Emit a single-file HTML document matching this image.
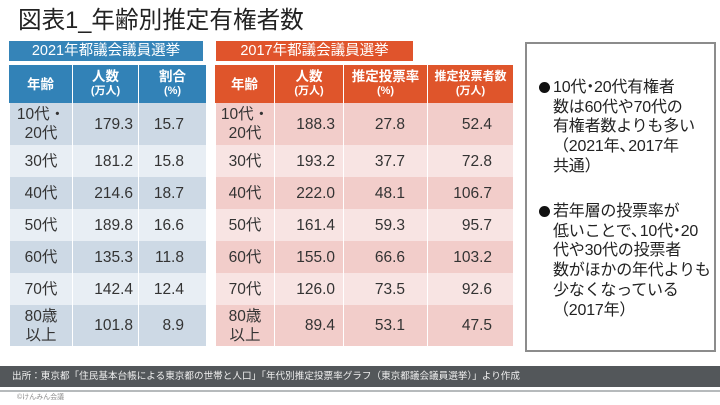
<!DOCTYPE html>
<html><head><meta charset="utf-8">
<style>
*{margin:0;padding:0;box-sizing:border-box}
html,body{width:720px;height:405px;background:#fff;overflow:hidden}
body{position:relative;font-family:"Liberation Sans","Noto Sans CJK JP",sans-serif;color:#333}
.abs{position:absolute}
.title{left:18px;top:8px;font-size:23.6px;line-height:26px;color:#222;white-space:nowrap}
.banner{height:20px;top:41px;color:#fff;font-size:14.5px;line-height:20px;text-align:center;white-space:nowrap}
.tbl{position:absolute;top:65px;display:grid;grid-template-rows:38px 42px 32px 32px 32px 32px 32px 41px}
.c{display:flex;align-items:center;font-size:15.5px;color:#333;white-space:nowrap;line-height:19px}
.c+.c{border-left:1px solid #fff}
.h{color:#fff;font-weight:bold;justify-content:center;flex-direction:column;text-align:center;font-size:13.5px;line-height:15px}
.h small{font-size:11px;display:block;margin-top:0px}
.l{justify-content:center;text-align:center}
.r{justify-content:flex-end}
.box{left:525px;top:42px;width:191px;height:310px;border:2px solid #8c8c8c}
.p{position:absolute;left:537px;font-size:16px;line-height:19.7px;color:#222;white-space:nowrap;letter-spacing:-0.2px}
.p .b{position:absolute;left:2px;top:4px;width:11px;height:11px;border-radius:50%;background:#111}
.p .t{margin-left:16px}
.d{margin:0 -4px}
.k{margin-right:-7px}
.foot{left:0;top:366px;width:720px;height:21px;background:#53575a;color:#f0f0f0;font-size:9.6px;line-height:21px;padding-left:12px;white-space:nowrap}
.fline{left:0;top:390px;width:720px;height:2px;background:#b6babc}
.copy{left:17px;top:394px;font-size:7px;line-height:8px;color:#8a8a8a}
</style></head><body>
<div class="abs title">図表1_年齢別推定有権者数</div>

<div class="abs banner" style="left:9px;width:194px;background:#3584b8">2021年都議会議員選挙</div>
<div class="abs banner" style="left:216px;width:197px;background:#e0542c">2017年都議会議員選挙</div>

<div class="tbl" style="left:9px;width:197px;grid-template-columns:63px 66px 68px">
<div class="c h" style="background:#3282b7">年齢</div><div class="c h" style="background:#3282b7">人数<small>(万人)</small></div><div class="c h" style="background:#3282b7">割合<small>(%)</small></div>

<div class="c l" style="background:#cdd9e5">10代・<br>20代</div><div class="c r" style="background:#cdd9e5;padding-right:5px">179.3</div><div class="c r" style="background:#cdd9e5;padding-right:22px">15.7</div>
<div class="c l" style="background:#e8eef4">30代</div><div class="c r" style="background:#e8eef4;padding-right:5px">181.2</div><div class="c r" style="background:#e8eef4;padding-right:22px">15.8</div>
<div class="c l" style="background:#cdd9e5">40代</div><div class="c r" style="background:#cdd9e5;padding-right:5px">214.6</div><div class="c r" style="background:#cdd9e5;padding-right:22px">18.7</div>
<div class="c l" style="background:#e8eef4">50代</div><div class="c r" style="background:#e8eef4;padding-right:5px">189.8</div><div class="c r" style="background:#e8eef4;padding-right:22px">16.6</div>
<div class="c l" style="background:#cdd9e5">60代</div><div class="c r" style="background:#cdd9e5;padding-right:5px">135.3</div><div class="c r" style="background:#cdd9e5;padding-right:22px">11.8</div>
<div class="c l" style="background:#e8eef4">70代</div><div class="c r" style="background:#e8eef4;padding-right:5px">142.4</div><div class="c r" style="background:#e8eef4;padding-right:22px">12.4</div>
<div class="c l" style="background:#cdd9e5">80歳<br>以上</div><div class="c r" style="background:#cdd9e5;padding-right:5px">101.8</div><div class="c r" style="background:#cdd9e5;padding-right:22px">8.9</div>
</div>

<div class="tbl" style="left:215px;width:298px;grid-template-columns:59px 69px 84px 86px">
<div class="c h" style="background:#df552b">年齢</div><div class="c h" style="background:#df552b">人数<small>(万人)</small></div><div class="c h" style="background:#df552b">推定投票率<small>(%)</small></div><div class="c h" style="background:#df552b;font-size:12px">推定投票者数<small>(万人)</small></div>

<div class="c l" style="background:#f2cdca">10代・<br>20代</div><div class="c r" style="background:#f2cdca;padding-right:8px">188.3</div><div class="c r" style="background:#f2cdca;padding-right:22px">27.8</div><div class="c r" style="background:#f2cdca;padding-right:21px">52.4</div>
<div class="c l" style="background:#f8e4e3">30代</div><div class="c r" style="background:#f8e4e3;padding-right:8px">193.2</div><div class="c r" style="background:#f8e4e3;padding-right:22px">37.7</div><div class="c r" style="background:#f8e4e3;padding-right:21px">72.8</div>
<div class="c l" style="background:#f2cdca">40代</div><div class="c r" style="background:#f2cdca;padding-right:8px">222.0</div><div class="c r" style="background:#f2cdca;padding-right:22px">48.1</div><div class="c r" style="background:#f2cdca;padding-right:21px">106.7</div>
<div class="c l" style="background:#f8e4e3">50代</div><div class="c r" style="background:#f8e4e3;padding-right:8px">161.4</div><div class="c r" style="background:#f8e4e3;padding-right:22px">59.3</div><div class="c r" style="background:#f8e4e3;padding-right:21px">95.7</div>
<div class="c l" style="background:#f2cdca">60代</div><div class="c r" style="background:#f2cdca;padding-right:8px">155.0</div><div class="c r" style="background:#f2cdca;padding-right:22px">66.6</div><div class="c r" style="background:#f2cdca;padding-right:21px">103.2</div>
<div class="c l" style="background:#f8e4e3">70代</div><div class="c r" style="background:#f8e4e3;padding-right:8px">126.0</div><div class="c r" style="background:#f8e4e3;padding-right:22px">73.5</div><div class="c r" style="background:#f8e4e3;padding-right:21px">92.6</div>
<div class="c l" style="background:#f2cdca">80歳<br>以上</div><div class="c r" style="background:#f2cdca;padding-right:8px">89.4</div><div class="c r" style="background:#f2cdca;padding-right:22px">53.1</div><div class="c r" style="background:#f2cdca;padding-right:21px">47.5</div>
</div>

<div class="abs box"></div>
<div class="p" style="top:78px"><span class="b"></span><div class="t">10代<span class="d">・</span>20代有権者<br>数は60代や70代の<br>有権者数よりも多い<br>（2021年<span class="k">、</span>2017年<br>共通）</div></div>
<div class="p" style="top:202px"><span class="b"></span><div class="t">若年層の投票率が<br>低いことで<span class="k">、</span>10代<span class="d">・</span>20<br>代や30代の投票者<br>数がほかの年代よりも<br>少なくなっている<br>（2017年）</div></div>

<div class="abs foot">出所：東京都「住民基本台帳による東京都の世帯と人口」「年代別推定投票率グラフ（東京都議会議員選挙）」より作成</div>
<div class="abs fline"></div>
<div class="abs copy">©けんみん会議</div>
</body></html>
